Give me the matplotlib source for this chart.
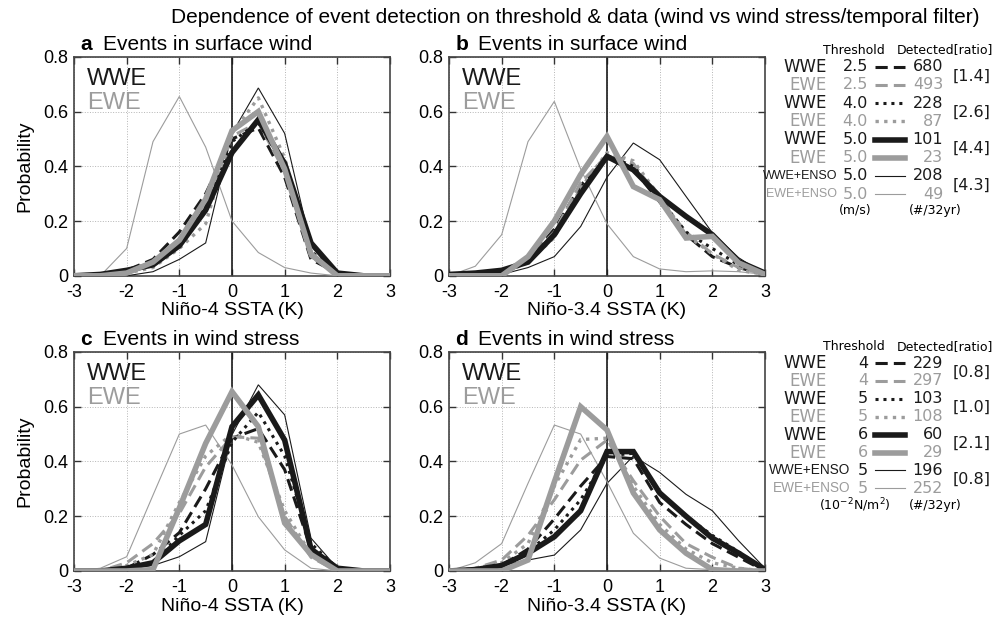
import matplotlib
matplotlib.use("Agg")
import matplotlib.pyplot as plt
from matplotlib.lines import Line2D
from matplotlib import font_manager

plt.rcParams['font.family'] = ['Liberation Sans', 'DejaVu Sans']
plt.rcParams['axes.unicode_minus'] = False

# SSTA bins (K)
sst_bins = [-3, -2.5, -2, -1.5, -1, -0.5, 0, 0.5, 1, 1.5, 2, 2.5, 3]

# a: surface wind, Nino-4
a_wwe_dash = [0, 0.005, 0.02, 0.06, 0.16, 0.30, 0.50, 0.54, 0.36, 0.06, 0.01, 0, 0]
a_ewe_dash = [0, 0.005, 0.01, 0.05, 0.13, 0.27, 0.51, 0.56, 0.38, 0.07, 0.01, 0, 0]
a_wwe_dot = [0, 0.005, 0.015, 0.04, 0.12, 0.25, 0.49, 0.56, 0.40, 0.09, 0.01, 0, 0]
a_ewe_dot = [0, 0, 0.01, 0.03, 0.10, 0.19, 0.52, 0.65, 0.43, 0.07, 0.005, 0, 0]
a_wwe_thick = [0, 0.005, 0.02, 0.04, 0.11, 0.24, 0.45, 0.57, 0.41, 0.12, 0.01, 0, 0]
a_ewe_thick = [0, 0, 0.01, 0.05, 0.13, 0.28, 0.53, 0.60, 0.39, 0.08, 0, 0, 0]
a_wwe_enso = [0, 0, 0, 0.015, 0.06, 0.12, 0.52, 0.686, 0.52, 0.11, 0.01, 0, 0]
a_ewe_enso = [0, 0, 0.10, 0.49, 0.655, 0.47, 0.20, 0.085, 0.03, 0.01, 0, 0, 0]

# b: surface wind, Nino-3.4
b_wwe_dash = [0.005, 0.01, 0.015, 0.06, 0.17, 0.33, 0.43, 0.39, 0.27, 0.15, 0.07, 0.03, 0.005]
b_ewe_dash = [0, 0, 0.01, 0.06, 0.16, 0.34, 0.44, 0.41, 0.28, 0.16, 0.08, 0.03, 0.005]
b_wwe_dot = [0.005, 0.01, 0.015, 0.06, 0.15, 0.31, 0.44, 0.40, 0.28, 0.16, 0.10, 0.04, 0.005]
b_ewe_dot = [0, 0, 0.005, 0.05, 0.14, 0.32, 0.45, 0.42, 0.29, 0.15, 0.08, 0.02, 0.005]
b_wwe_thick = [0.005, 0.01, 0.02, 0.05, 0.15, 0.30, 0.436, 0.387, 0.29, 0.217, 0.15, 0.052, 0.01]
b_ewe_thick = [0, 0, 0, 0.07, 0.20, 0.37, 0.509, 0.326, 0.278, 0.138, 0.144, 0.047, 0.005]
b_wwe_enso = [0, 0, 0.005, 0.03, 0.07, 0.18, 0.36, 0.485, 0.424, 0.29, 0.157, 0.066, 0.005]
b_ewe_enso = [0, 0.035, 0.15, 0.49, 0.637, 0.39, 0.19, 0.07, 0.025, 0.015, 0.018, 0.015, 0.005]

# c: wind stress, Nino-4
c_wwe_dash = [0, 0, 0.01, 0.06, 0.14, 0.30, 0.485, 0.52, 0.37, 0.08, 0.01, 0, 0]
c_ewe_dash = [0, 0, 0.03, 0.10, 0.21, 0.38, 0.49, 0.485, 0.20, 0.05, 0, 0, 0]
c_wwe_dot = [0, 0, 0.01, 0.03, 0.13, 0.22, 0.47, 0.58, 0.42, 0.10, 0.01, 0, 0]
c_ewe_dot = [0, 0, 0.02, 0.06, 0.25, 0.42, 0.50, 0.47, 0.22, 0.06, 0, 0, 0]
c_wwe_thick = [0, 0, 0.01, 0.03, 0.11, 0.17, 0.527, 0.643, 0.478, 0.08, 0.01, 0, 0]
c_ewe_thick = [0, 0, 0, 0.005, 0.23, 0.466, 0.655, 0.527, 0.175, 0.06, 0, 0, 0]
c_wwe_enso = [0, 0, 0.01, 0.02, 0.052, 0.107, 0.497, 0.68, 0.57, 0.12, 0.01, 0, 0]
c_ewe_enso = [0, 0.01, 0.052, 0.277, 0.50, 0.533, 0.387, 0.198, 0.077, 0.01, 0, 0, 0]

# d: wind stress, Nino-3.4
d_wwe_dash = [0, 0.005, 0.02, 0.08, 0.19, 0.31, 0.418, 0.41, 0.25, 0.17, 0.10, 0.05, 0]
d_ewe_dash = [0, 0.01, 0.04, 0.13, 0.26, 0.405, 0.478, 0.33, 0.20, 0.10, 0.05, 0.01, 0]
d_wwe_dot = [0, 0.005, 0.02, 0.07, 0.15, 0.26, 0.42, 0.43, 0.28, 0.20, 0.13, 0.07, 0.005]
d_ewe_dot = [0, 0.01, 0.03, 0.10, 0.31, 0.48, 0.485, 0.31, 0.17, 0.08, 0.03, 0.01, 0]
d_wwe_thick = [0, 0.005, 0.02, 0.065, 0.125, 0.22, 0.436, 0.436, 0.285, 0.20, 0.12, 0.065, 0.005]
d_ewe_thick = [0, 0, 0, 0.04, 0.325, 0.60, 0.515, 0.285, 0.15, 0.065, 0.005, 0, 0]
d_wwe_enso = [0, 0.01, 0.02, 0.04, 0.058, 0.15, 0.32, 0.42, 0.36, 0.28, 0.22, 0.11, 0.01]
d_ewe_enso = [0, 0.03, 0.10, 0.32, 0.533, 0.50, 0.326, 0.138, 0.047, 0.01, 0.005, 0, 0]

# legend tables
row_names = ['WWE', 'EWE', 'WWE', 'EWE', 'WWE', 'EWE', 'WWE+ENSO', 'EWE+ENSO']
thr_wind = ['2.5', '2.5', '4.0', '4.0', '5.0', '5.0', '5.0', '5.0']
cnt_wind = [680, 493, 228, 87, 101, 23, 208, 49]
ratio_wind = ['[1.4]', '[2.6]', '[4.4]', '[4.3]']
thr_stress = ['4', '4', '5', '5', '6', '6', '5', '5']
cnt_stress = [229, 297, 103, 108, 60, 29, 196, 252]
ratio_stress = ['[0.8]', '[1.0]', '[2.1]', '[0.8]']

BLACK = '#1a1a1a'
GRAY = '#9c9c9c'

# style for each series: dash, dot, thick, thin (WWE black / EWE gray)
line_styles = [
    dict(color=BLACK, lw=2.2, dashes=(4, 2)),
    dict(color=GRAY, lw=2.2, dashes=(4, 2)),
    dict(color=BLACK, lw=2.2, dashes=(1, 1.6)),
    dict(color=GRAY, lw=2.4, dashes=(1, 1.6)),
    dict(color=BLACK, lw=4.0, ls='-'),
    dict(color=GRAY, lw=4.0, ls='-'),
    dict(color=BLACK, lw=0.8, ls='-'),
    dict(color=GRAY, lw=0.8, ls='-'),
]
draw_order = [6, 7, 0, 1, 2, 3, 4, 5]

panels = [
    ('a', 'Events in surface wind', 'Niño-4 SSTA (K)', [0.074, 0.553],
     [a_wwe_dash, a_ewe_dash, a_wwe_dot, a_ewe_dot, a_wwe_thick, a_ewe_thick, a_wwe_enso, a_ewe_enso]),
    ('b', 'Events in surface wind', 'Niño-3.4 SSTA (K)', [0.449, 0.553],
     [b_wwe_dash, b_ewe_dash, b_wwe_dot, b_ewe_dot, b_wwe_thick, b_ewe_thick, b_wwe_enso, b_ewe_enso]),
    ('c', 'Events in wind stress', 'Niño-4 SSTA (K)', [0.074, 0.0746],
     [c_wwe_dash, c_ewe_dash, c_wwe_dot, c_ewe_dot, c_wwe_thick, c_ewe_thick, c_wwe_enso, c_ewe_enso]),
    ('d', 'Events in wind stress', 'Niño-3.4 SSTA (K)', [0.449, 0.0746],
     [d_wwe_dash, d_ewe_dash, d_wwe_dot, d_ewe_dot, d_wwe_thick, d_ewe_thick, d_wwe_enso, d_ewe_enso]),
]

fig = plt.figure(figsize=(10, 6.17), dpi=100)

for letter, title, xlab, pos, series in panels:
    ax = fig.add_axes([pos[0], pos[1], 0.316, 0.355])
    ax.set_xlim(-3, 3)
    ax.set_ylim(0, 0.8)
    ax.set_xticks([-3, -2, -1, 0, 1, 2, 3])
    ax.set_xticklabels(['-3', '-2', '-1', '0', '1', '2', '3'])
    ax.set_yticks([0, 0.2, 0.4, 0.6, 0.8])
    ax.set_yticklabels(['0', '0.2', '0.4', '0.6', '0.8'])
    ax.tick_params(direction='in', top=True, right=True, length=5, width=1,
                   labelsize=13, color='#333333')
    ax.tick_params(axis='x', pad=6)
    ax.tick_params(axis='y', pad=4)
    for sp in ax.spines.values():
        sp.set_color('#444444')
        sp.set_linewidth(1.2)
    ax.grid(True, ls=':', lw=0.7, color='#b5b5b5')
    ax.axvline(0, color=BLACK, lw=1.2, zorder=2)
    for i in draw_order:
        ax.plot(sst_bins, series[i], zorder=3, solid_joinstyle='miter', **line_styles[i])
    ax.text(0.02, 1.012, letter, transform=ax.transAxes, fontsize=15,
            fontweight='bold', va='bottom', ha='left')
    ax.text(0.092, 1.012, title, transform=ax.transAxes, fontsize=15,
            va='bottom', ha='left')
    ax.text(0.04, 0.90, 'WWE', transform=ax.transAxes, fontsize=17,
            color=BLACK, va='center', ha='left')
    ax.text(0.04, 0.79, 'EWE', transform=ax.transAxes, fontsize=17,
            color=GRAY, va='center', ha='left')
    fig.text(pos[0] + 0.158, pos[1] - 0.057, xlab, fontsize=14, ha='center', va='center')

fig.text(0.025, 0.730, 'Probability', rotation=90, fontsize=14, ha='center', va='center')
fig.text(0.025, 0.252, 'Probability', rotation=90, fontsize=14, ha='center', va='center')

fig.text(0.575, 0.971, 'Dependence of event detection on threshold & data '
         '(wind vs wind stress/temporal filter)', fontsize=15, ha='center', va='center')

# condensed font for the ENSO rows if present
installed = {f.name for f in font_manager.fontManager.ttflist}
if 'Liberation Sans Narrow' in installed:
    narrow = dict(family='Liberation Sans Narrow')
    narrow_sizes = (11.5, 12)
else:
    narrow = dict(family='Liberation Sans')
    narrow_sizes = (9, 9.8)


def px(x, y):
    return x / 1000.0, 1 - y / 617.0


def legend_block(y0, dy, head_y, unit_y, thr, cnt, ratio, unit_txt, enso_right, enso_size):
    lf = ['DejaVu Sans']
    fig.text(*px(854, head_y), 'Threshold', fontsize=9, ha='center', va='center', family=lf)
    fig.text(*px(945, head_y), 'Detected[ratio]', fontsize=9, ha='center', va='center', family=lf)
    for i in range(8):
        y = y0 + dy * i
        col = BLACK if i % 2 == 0 else GRAY
        if i >= 6:
            fig.text(*px(enso_right, y), row_names[i], fontsize=enso_size, color=col,
                     ha='right', va='center', **narrow)
        else:
            fig.text(*px(827, y), row_names[i], fontsize=12, color=col,
                     ha='right', va='center', family=lf)
        fig.text(*px(868, y), thr[i], fontsize=11.5, color=col, ha='right', va='center', family=lf)
        fig.text(*px(943, y), str(cnt[i]), fontsize=11.5, color=col, ha='right', va='center', family=lf)
        x0, yy = px(875, y)
        x1, _ = px(905, y)
        fig.add_artist(Line2D([x0, x1], [yy, yy], transform=fig.transFigure, **line_styles[i]))
    for k in range(4):
        y = y0 + dy * (2 * k + 0.5)
        fig.text(*px(953, y), ratio[k], fontsize=11.5, color=BLACK, ha='left', va='center', family=lf)
    fig.text(*px(855, unit_y), unit_txt, fontsize=9, ha='center', va='center', family=lf)
    fig.text(*px(935, unit_y), '(#/32yr)', fontsize=9, ha='center', va='center', family=lf)


legend_block(66.7, 18.2, 50, 210, thr_wind, cnt_wind, ratio_wind, '(m/s)', 837, narrow_sizes[0])
legend_block(363, 17.9, 346.7, 505, thr_stress, cnt_stress, ratio_stress,
             r'(10$^{-2}$N/m$^{2}$)', 850, narrow_sizes[1])

plt.savefig('out.png', dpi=100)
plt.close(fig)
